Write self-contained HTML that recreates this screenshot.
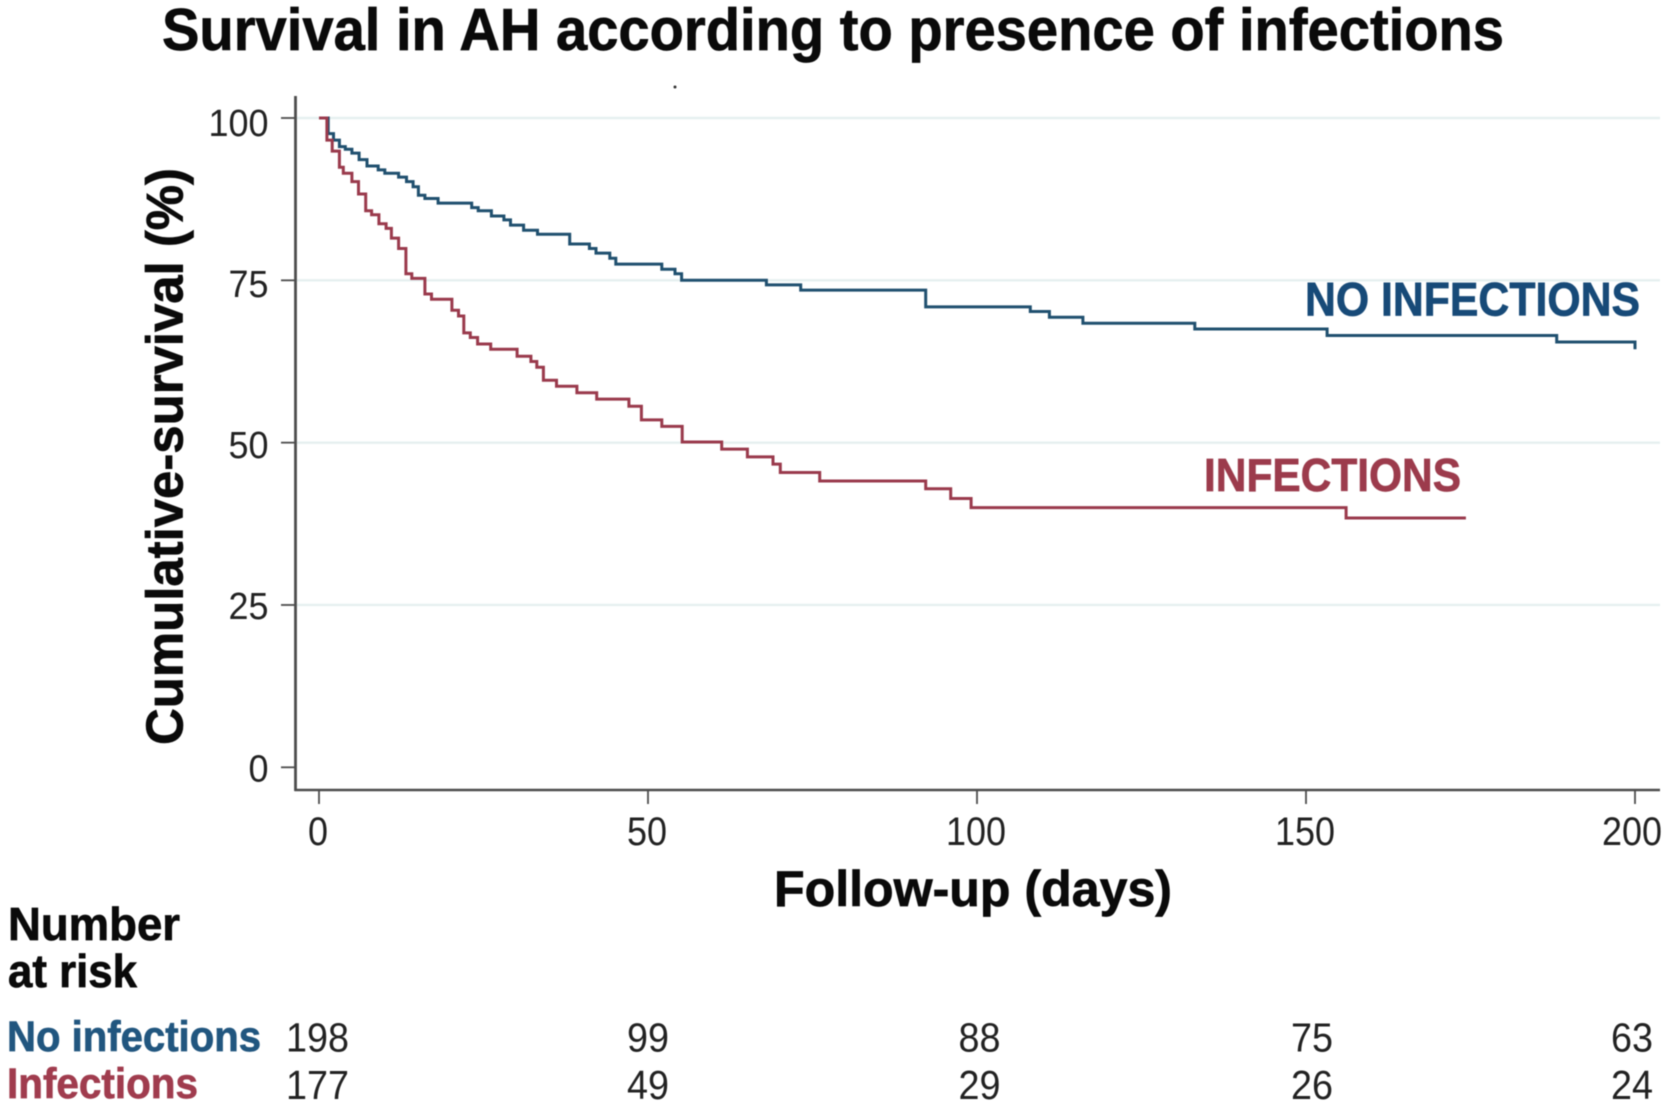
<!DOCTYPE html>
<html lang="en">
<head>
<meta charset="utf-8">
<title>Survival in AH according to presence of infections</title>
<style>
  html, body { margin: 0; padding: 0; background: #fff; }
  svg { display: block; font-family: "Liberation Sans", sans-serif; filter: blur(0.45px); }
  .heavy { stroke-width: 0.7px; paint-order: stroke; }
</style>
</head>
<body>
<svg id="chart" xmlns="http://www.w3.org/2000/svg" width="1667" height="1109" viewBox="0 0 1667 1109">
  <rect width="1667" height="1109" fill="#ffffff"/>
  <text class="heavy" stroke="#0a0a0a" x="162" y="50" font-size="59" font-weight="700" fill="#0a0a0a" textLength="1342" lengthAdjust="spacingAndGlyphs">Survival in AH according to presence of infections</text>
  <circle cx="675" cy="87" r="1.5" fill="#333333"/>
  <g id="grid"></g>
  <g id="series"></g>
  <g id="axes"></g>
  <text class="heavy" stroke="#0a0a0a" transform="translate(182.5 456.5) rotate(-90)" text-anchor="middle" font-size="52" font-weight="700" fill="#0a0a0a" textLength="577" lengthAdjust="spacingAndGlyphs">Cumulative-survival (%)</text>
  <text class="heavy" stroke="#0a0a0a" x="774" y="906" font-size="50" font-weight="700" fill="#0a0a0a" textLength="398" lengthAdjust="spacingAndGlyphs">Follow-up (days)</text>
  <text class="heavy" stroke="#174a78" x="1305" y="315.5" font-size="47" font-weight="700" fill="#174a78" textLength="335" lengthAdjust="spacingAndGlyphs">NO INFECTIONS</text>
  <text class="heavy" stroke="#9c3b4c" x="1204" y="491" font-size="46" font-weight="700" fill="#9c3b4c" textLength="257" lengthAdjust="spacingAndGlyphs">INFECTIONS</text>
  <g id="risk">
    <text class="heavy" stroke="#0a0a0a" x="8" y="940" font-size="46" font-weight="700" fill="#0a0a0a" textLength="172" lengthAdjust="spacingAndGlyphs">Number</text>
    <text class="heavy" stroke="#0a0a0a" x="8" y="987" font-size="46" font-weight="700" fill="#0a0a0a" textLength="129" lengthAdjust="spacingAndGlyphs">at risk</text>
    <text class="heavy" stroke="#21567f" x="7" y="1051" font-size="43" font-weight="700" fill="#21567f" textLength="254" lengthAdjust="spacingAndGlyphs">No infections</text>
    <text class="heavy" stroke="#a03c4e" x="7" y="1098" font-size="43" font-weight="700" fill="#a03c4e" textLength="191" lengthAdjust="spacingAndGlyphs">Infections</text>
  </g>
</svg>
<script>
const yTickValues = [100, 75, 50, 25, 0];
const yGridValues = [100, 75, 50, 25];
const xTickValues = [0, 50, 100, 150, 200];
const riskDays = [0, 50, 100, 150, 200];
const riskNoInfections = [198, 99, 88, 75, 63];
const riskInfections = [177, 49, 29, 26, 24];

const noInfectionsDays = [0, 1.4, 2.2, 3.1, 4.0, 5.0, 6.1, 7.3, 9.0, 10.0, 12.1, 13.3, 14.3, 15.1, 16.1, 18.1, 23.2, 24.2, 26.2, 28.1, 29.1, 31.1, 33.2, 38.1, 41.1, 42.1, 44.2, 45.1, 52.1, 54.1, 55.1, 68.0, 73.2, 92.2, 108.1, 111.0, 116.1, 133.1, 153.2, 188.1, 200.0];
const noInfectionsSurvival = [100, 97.6, 96.6, 95.6, 95.2, 94.6, 93.6, 92.6, 92.0, 91.5, 90.9, 90.2, 89.4, 88.1, 87.6, 86.9, 86.2, 85.7, 84.9, 84.3, 83.5, 82.7, 82.1, 80.6, 79.9, 79.2, 78.4, 77.5, 76.7, 76.0, 75.0, 74.3, 73.5, 70.9, 70.2, 69.3, 68.4, 67.5, 66.5, 65.5, 64.4];

const infectionsDays = [0, 1.2, 2.0, 3.1, 3.7, 5.0, 6.0, 7.1, 8.0, 9.1, 10.2, 11.0, 12.1, 13.2, 14.1, 16.1, 17.1, 20.2, 21.2, 22.0, 23.0, 24.1, 26.1, 30.1, 32.2, 33.1, 34.1, 36.1, 39.2, 42.2, 47.1, 49.0, 52.1, 55.2, 61.2, 65.1, 69.0, 70.1, 76.1, 92.2, 96.0, 99.1, 156.1, 174.3];
const infectionsSurvival = [100, 96.6, 94.9, 92.4, 91.5, 90.2, 88.3, 85.7, 85.1, 83.7, 83.0, 81.5, 79.9, 76.0, 75.3, 72.9, 72.1, 70.4, 69.5, 66.9, 66.2, 65.2, 64.4, 63.3, 62.5, 61.6, 59.6, 58.7, 57.7, 56.7, 55.6, 53.5, 52.5, 50.1, 49.0, 47.8, 46.7, 45.4, 44.1, 42.9, 41.4, 40.0, 38.4, 38.4];

const NS = 'http://www.w3.org/2000/svg';
function xScale(day) { return 319 + day * 6.58; }
function yScale(pct) { return 767.3 - pct * 6.493; }
function make(tag, attrs, text) {
  const el = document.createElementNS(NS, tag);
  for (const k in attrs) el.setAttribute(k, attrs[k]);
  if (text !== undefined) el.textContent = text;
  return el;
}
function digitWidth(value) { return String(value).length * 20; }
function stepPath(days, values) {
  let d = 'M' + xScale(days[0]).toFixed(1) + ' ' + yScale(values[0]).toFixed(1);
  for (let i = 1; i < days.length; i++) {
    d += 'H' + xScale(days[i]).toFixed(1) + 'V' + yScale(values[i]).toFixed(1);
  }
  return d;
}

const grid = document.getElementById('grid');
yGridValues.forEach(function (v) {
  const line = make('line', { x1: 297, x2: 1660, y1: yScale(v), y2: yScale(v), stroke: '#e6f0f0', 'stroke-width': 2.4 });
  
  
  grid.appendChild(line);
});

const seriesGroup = document.getElementById('series');
const noInfLine = make('path', { d: stepPath(noInfectionsDays, noInfectionsSurvival), fill: 'none', stroke: '#20506f', 'stroke-width': 3, 'stroke-linejoin': 'miter' });


seriesGroup.appendChild(noInfLine);
const infLine = make('path', { d: stepPath(infectionsDays, infectionsSurvival), fill: 'none', stroke: '#9a3a4c', 'stroke-width': 3, 'stroke-linejoin': 'miter' });


seriesGroup.appendChild(infLine);

const axes = document.getElementById('axes');
const yAxis = make('line', { x1: 295.5, x2: 295.5, y1: 96, y2: 791, stroke: '#4d4d4d', 'stroke-width': 2.8 });


axes.appendChild(yAxis);
const xAxis = make('line', { x1: 294.5, x2: 1660, y1: 790, y2: 790, stroke: '#4d4d4d', 'stroke-width': 2.6 });


axes.appendChild(xAxis);

yTickValues.forEach(function (v) {
  const tick = make('line', { x1: 281, x2: 295, y1: yScale(v), y2: yScale(v), stroke: '#4d4d4d', 'stroke-width': 1.8 });
  
  
  axes.appendChild(tick);
  const label = make('text', { x: 268.5, y: yScale(v) + 14 + Math.max(0, v - 25) * 0.053, 'text-anchor': 'end', 'font-size': 38, fill: '#222222', textLength: digitWidth(v), lengthAdjust: 'spacingAndGlyphs' }, String(v));
  
  
  axes.appendChild(label);
});

xTickValues.forEach(function (v) {
  const tick = make('line', { x1: xScale(v), x2: xScale(v), y1: 790, y2: 804, stroke: '#4d4d4d', 'stroke-width': 1.8 });
  
  
  axes.appendChild(tick);
  const label = make('text', { x: xScale(v) - (v === 200 ? 3 : 1), y: 845, 'text-anchor': 'middle', 'font-size': 40, fill: '#222222', textLength: digitWidth(v), lengthAdjust: 'spacingAndGlyphs' }, String(v));
  
  
  axes.appendChild(label);
});

const risk = document.getElementById('risk');
const riskNudge = [-1.5, 0, 2.5, 6, -3];
riskDays.forEach(function (day, i) {
  const a = make('text', { x: xScale(day) + riskNudge[i], y: 1051.5, 'text-anchor': 'middle', 'font-size': 41, fill: '#222222', textLength: digitWidth(riskNoInfections[i]) + String(riskNoInfections[i]).length, lengthAdjust: 'spacingAndGlyphs' }, String(riskNoInfections[i]));
  
  
  risk.appendChild(a);
  const b = make('text', { x: xScale(day) + riskNudge[i], y: 1099, 'text-anchor': 'middle', 'font-size': 41, fill: '#222222', textLength: digitWidth(riskInfections[i]) + String(riskInfections[i]).length, lengthAdjust: 'spacingAndGlyphs' }, String(riskInfections[i]));
  
  
  risk.appendChild(b);
});
</script>
</body>
</html>
